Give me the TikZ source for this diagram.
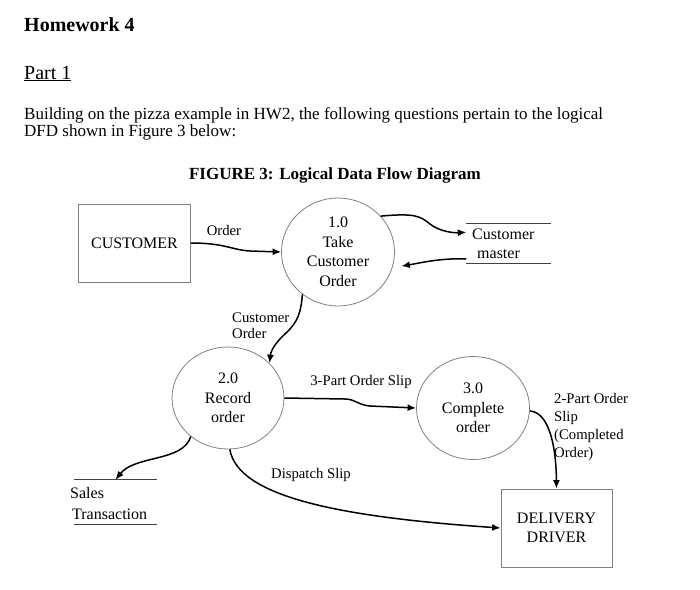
\documentclass[tikz,border=0pt]{standalone}
\usepackage{fontspec}
\setmainfont{Liberation Serif}
\usetikzlibrary{arrows.meta, shapes.geometric, positioning}
\newcommand{\nodefont}{\fontsize{16}{19.5}\selectfont}
\newcommand{\lblfont}{\fontsize{14.7}{16}\selectfont}
\tikzset{
  entity/.style={
    draw=black!50, fill=white, line width=0.8pt,
    minimum width=112pt, minimum height=78pt, inner sep=0pt,
    align=center, font=\nodefont
  },
  process/.style={
    ellipse, draw=black!50, fill=white, line width=0.8pt,
    minimum width=113pt, minimum height=103pt, inner sep=0pt,
    align=center, font=\nodefont
  },
  store/.style={minimum width=84pt, inner sep=0pt},
  storeline/.style={black!75, line width=1.3pt},
  flow/.style={-{Latex[length=8.5pt,width=7pt]}, black, line width=1.5pt},
  lbl/.style={font=\lblfont, inner sep=0pt, align=left},
  storetext/.style={font=\nodefont, inner sep=0pt}
}
\newcommand{\storelines}[1]{%
  \foreach \a/\b in {north west/north east, south west/south east} {
    \draw[storeline] (#1.\a) -- (#1.\b);
  }
}

\begin{document}
\begin{tikzpicture}[x=1pt, y=-1pt]
  \path[use as bounding box, fill=white] (0,0) rectangle (700,589);

  % page text
  \node[anchor=base west, inner sep=0pt, font=\bfseries\fontsize{20}{24}\selectfont] (hw) at (24,31) {Homework 4};
  \node[anchor=base west, inner sep=0pt, font=\fontsize{20}{24}\selectfont] (part) at (24,79) {\underline{Part 1}};
  \node[anchor=base west, inner sep=0pt, align=left, font=\fontsize{17}{17}\selectfont] (intro) at (24,136)
    {Building on the pizza example in HW2, the following questions pertain to the logical\\DFD shown in Figure 3 below:};
  \node[anchor=base, inner sep=0pt, font=\bfseries\fontsize{17}{20}\selectfont] (figcap) at (335,179)
    {FIGURE 3: Logical Data Flow Diagram};

  % entities and processes
  \node[entity] (cust) at (134.5,243) {CUSTOMER};
  \node[entity, minimum width=111pt] (drv) at (556.5,528) {DELIVERY\\DRIVER};
  \node[process, minimum height=108pt] (p1) at (338,252) {1.0\\Take\\Customer\\Order};
  \node[process, minimum width=112pt, minimum height=102pt] (p2) at (228,398) {2.0\\Record\\order};
  \node[process] (p3) at (473,408) {3.0\\Complete\\order};

  % data stores
  \node[store, minimum height=39pt] (cmaster) at (508.5,243.5) {};
  \storelines{cmaster}
  \node[storetext, anchor=base west] (cmtop) at (472,239) {Customer};
  \node[storetext, anchor=base west] (cmbot) at (477,258) {master};
  \node[store, minimum width=83pt, minimum height=44pt] (sales) at (115.5,502) {};
  \storelines{sales}
  \node[storetext, anchor=base west] (saltop) at (70,498) {Sales};
  \node[storetext, anchor=base west] (salbot) at (72,519) {Transaction};

  % flows
  \draw[flow] (cust.east) .. controls (225,243) and (232,250) .. (250,251) -- (p1.west);
  \draw[flow] (p1.40) .. controls (415,213) and (420,216) .. (430,224)
    .. controls (440,232) and (455,233) .. (cmaster.165);
  \draw[flow, shorten >=9pt] (cmaster.200) .. controls (440,258) and (420,263) .. (p1.-16);
  \draw[flow] (p1.-130) .. controls (301,312) and (298,322) .. (286,333)
    .. controls (276,342) and (271,350) .. (p2.40);
  \draw[flow] (p2.east) -- (345,399) .. controls (355,399) and (358,405) .. (370,406) -- (p3.west);
  \draw[flow] (p3.-3) .. controls (547,412) and (556,440) .. (drv.north);
  \draw[flow] (p2.-134) .. controls (183,462) and (135,455) .. (sales.north);
  \draw[flow] (p2.-88) .. controls (238,497) and (340,517) .. (drv.west);

  % flow labels
  \node[lbl, anchor=base] (ordlbl) at (224,235) {Order};
  \node[lbl, anchor=base west] (colbl) at (232,338) {Customer\\Order};
  \node[lbl, anchor=base] (slip3) at (361,385) {3-Part Order Slip};
  \node[lbl, anchor=base west, font=\fontsize{14.7}{18}\selectfont] (slip2) at (554,457)
    {2-Part Order\\Slip\\(Completed\\Order)};
  \node[lbl, anchor=base] (displbl) at (311,478) {Dispatch Slip};
\end{tikzpicture}
\end{document}
